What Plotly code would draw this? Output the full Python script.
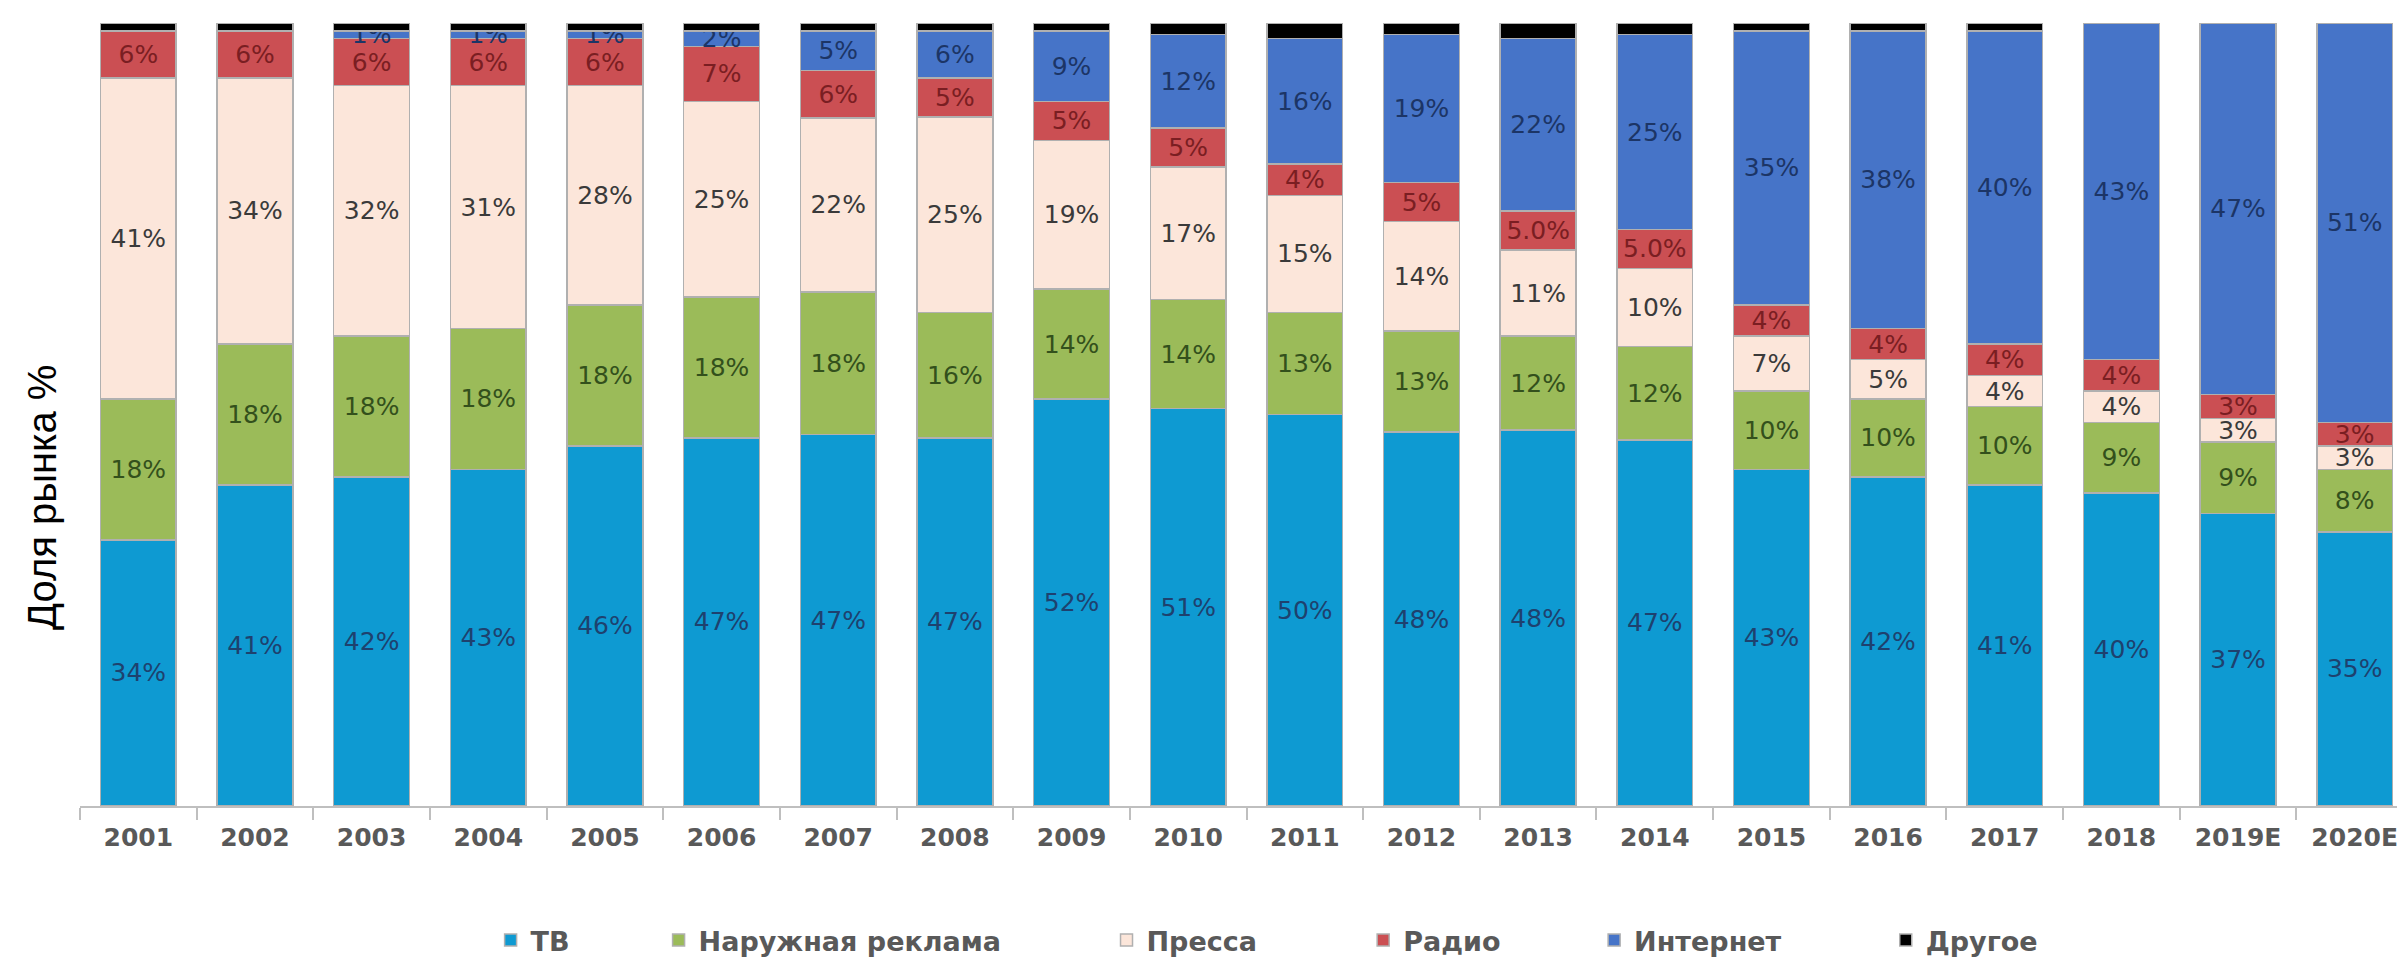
import plotly.graph_objects as go

years = ["2001", "2002", "2003", "2004", "2005", "2006", "2007", "2008", "2009", "2010",
         "2011", "2012", "2013", "2014", "2015", "2016", "2017", "2018", "2019E", "2020E"]

tv       = [34, 41, 42, 43, 46, 47, 47, 47, 52, 51, 50, 48, 48, 47, 43, 42, 41, 40, 37, 35]
outdoor  = [18, 18, 18, 18, 18, 18, 18, 16, 14, 14, 13, 13, 12, 12, 10, 10, 10, 9, 9, 8]
press    = [41, 34, 32, 31, 28, 25, 22, 25, 19, 17, 15, 14, 11, 10, 7, 5, 4, 4, 3, 3]
radio    = [6, 6, 6, 6, 6, 7, 6, 5, 5, 5, 4, 5, 5.0, 5.0, 4, 4, 4, 4, 3, 3]
internet = [0, 0, 1, 1, 1, 2, 5, 6, 9, 12, 16, 19, 22, 25, 35, 38, 40, 43, 47, 51]
other    = [1, 1, 1, 1, 1, 1, 1, 1, 1, 1.5, 2, 1.5, 2, 1.5, 1, 1, 1, 0, 0, 0]

radio_labels = ["6%", "6%", "6%", "6%", "6%", "7%", "6%", "5%", "5%", "5%",
                "4%", "5%", "5.0%", "5.0%", "4%", "4%", "4%", "4%", "3%", "3%"]

series_names = ["ТВ", "Наружная реклама", "Пресса", "Радио", "Интернет", "Другое"]
colors = ["#0E9AD2", "#9BBB59", "#FCE6DA", "#CB4F53", "#4674C8", "#000000"]
text_colors = ["#1E416E", "#33501C", "#3A3A3A", "#7A1E22", "#1C3566", "#000000"]

# legend entry positions (paper x) below the plot
legend_x = [0.176, 0.248, 0.440, 0.550, 0.649, 0.774]

L_MARGIN, PLOT_W = 72, 2333
PLOT_TOP, PLOT_H = 15, 783


def pct(vals):
    return [f"{v:g}%" if v else "" for v in vals]


texts = [pct(tv), pct(outdoor), pct(press), radio_labels, pct(internet), [""] * len(years)]
values = [tv, outdoor, press, radio, internet, other]

fig = go.Figure()
for i, (name, vals, col, tcol, txt) in enumerate(zip(series_names, values, colors, text_colors, texts)):
    fig.add_trace(go.Bar(
        x=years, y=vals, name=name,
        marker=dict(color=col, line=dict(color="#B0B0B0", width=1.5)),
        text=txt, textposition="inside", insidetextanchor="middle", textangle=0,
        textfont=dict(family="DejaVu Sans", size=25, color=tcol),
        legend="legend" if i == 0 else f"legend{i + 1}",
    ))

legend_font = dict(family="DejaVu Sans", size=27, color="#595959", weight="bold")
legends = {}
for i, lx in enumerate(legend_x):
    key = "legend" if i == 0 else f"legend{i + 1}"
    legends[key] = dict(
        orientation="h", x=lx, xanchor="left", y=-0.172, yanchor="middle",
        font=legend_font, itemwidth=30, bgcolor="rgba(0,0,0,0)",
    )

fig.update_layout(
    width=2405, height=957,
    barmode="stack", barnorm="percent", bargap=0.35,
    plot_bgcolor="white", paper_bgcolor="white",
    margin=dict(l=L_MARGIN, r=0, t=PLOT_TOP, b=957 - PLOT_TOP - PLOT_H),
    uniformtext=dict(minsize=25, mode="show"),
    showlegend=True,
    font=dict(family="DejaVu Sans"),
    **legends,
)

fig.update_xaxes(
    showline=True, linecolor="#BFBFBF", linewidth=2,
    ticks="outside", tickson="boundaries", ticklen=12, tickcolor="#BFBFBF", tickwidth=2,
    tickfont=dict(family="DejaVu Sans", size=25, color="#595959", weight="bold"),
    ticklabelstandoff=8,
    showgrid=False,
)
fig.update_yaxes(
    range=[0, 100], showgrid=False, showticklabels=False, zeroline=False, showline=False,
    automargin=False,
)

fig.add_annotation(
    text="Доля рынка %", textangle=-90,
    xref="paper", yref="paper", x=(34 - L_MARGIN) / PLOT_W, y=(PLOT_TOP + PLOT_H - 490) / PLOT_H,
    xanchor="center", yanchor="middle", showarrow=False,
    font=dict(family="Liberation Sans", size=40, color="#000000"),
)

fig.write_html("out.html")
